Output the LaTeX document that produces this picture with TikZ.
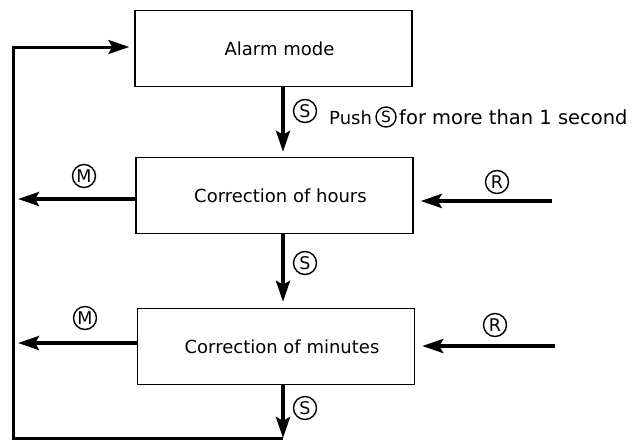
\documentclass[tikz,border=0pt]{standalone}
\usepackage{fontspec}
\setmainfont{DejaVu Sans}
\usetikzlibrary{arrows.meta}
\begin{document}
\begin{tikzpicture}[x=1pt,y=-1pt,
  box/.style={draw, line width=1.4pt, minimum width=277pt, minimum height=76pt, inner sep=0pt, font=\fontsize{18}{20}\selectfont},
  tip/.style={-{Stealth[length=21pt,width=14pt,inset=4pt]}},
  arr/.style={line width=3.8pt, tip},
  loopline/.style={line width=3pt, line join=miter},
  key/.style={draw, circle, line width=1.4pt, minimum size=23pt, inner sep=0pt, font=\fontsize{17.5}{17.5}\selectfont},
  txt/.style={font=\fontsize{18}{20}\selectfont, inner sep=0pt, anchor=base west}]
\useasboundingbox (0,0) rectangle (634,442);
% boxes
\node[box] (b1) at (273.5,48.5) {\hspace*{12pt}Alarm mode};
\node[box] (b2) at (274.5,195.5) {\hspace*{12pt}Correction of hours};
\node[box] (b3) at (276,346.5) {\hspace*{12pt}Correction of minutes};
% helper coordinates
\coordinate (cx) at (283,0);
\coordinate (bl) at (283,438);
\coordinate (c1) at (13,438);
\coordinate (c2) at (13,47);
\coordinate (m1end) at (18,199);
\coordinate (m2end) at (18,343);
\coordinate (r1start) at (552,201);
\coordinate (r2start) at (555,346);
% vertical S arrows
\draw[arr, shorten >=5pt] (b1.south -| cx) -- (b2.north -| cx);
\draw[arr, shorten >=6pt] (b2.south -| cx) -- (b3.north -| cx);
\draw[arr] (b3.south -| cx) -- (bl);
% loop back
\draw[loopline, tip, shorten >=5pt] (bl) -- (c1) -- (c2) -- (b1.west |- c2);
% M arrows
\draw[arr] (b2.west |- m1end) -- (m1end);
\draw[arr] (b3.west |- m2end) -- (m2end);
% R arrows
\draw[arr, shorten >=7pt] (r1start) -- (b2.east |- r1start);
\draw[arr, shorten >=7pt] (r2start) -- (b3.east |- r2start);
% key labels
\node[key] (s1) at (305,111) {S};
\node[key] (s2) at (305,263) {S};
\node[key] (s3) at (305,408) {S};
\node[key] (mk1) at (84,176) {M};
\node[key] (mk2) at (85,318) {M};
\node[key] (rk1) at (497,182) {R};
\node[key] (rk2) at (495,325) {R};
% push note
\node[txt] (push) at (329,124) {Push};
\node[key, minimum size=20pt, font=\fontsize{15.5}{15.5}\selectfont] (sp) at (386,117) {S};
\node[txt, font=\fontsize{19.5}{21}\selectfont] (more) at (399,124) {for more than 1 second};
\end{tikzpicture}
\end{document}
